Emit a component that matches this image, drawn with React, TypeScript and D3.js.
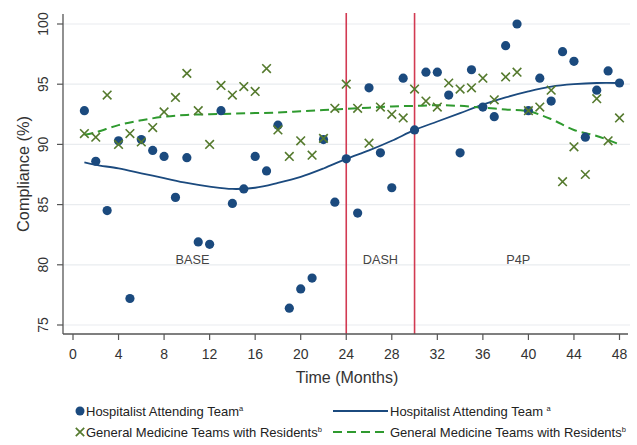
import * as d3 from 'd3';
import React from 'react';

// observed monthly compliance (%), months 1..48
const months = d3.range(1, 49);
const hospitalist = [
  92.8, 88.6, 84.5, 90.3, 77.2, 90.4, 89.5, 89.0, 85.6, 88.9, 81.9, 81.7,
  92.8, 85.1, 86.3, 89.0, 87.8, 91.6, 76.4, 78.0, 78.9, 90.4, 85.2, 88.8,
  84.3, 94.7, 89.3, 86.4, 95.5, 91.2, 96.0, 96.0, 94.1, 89.3, 96.2, 93.1,
  92.3, 98.2, 100.0, 92.8, 95.5, 93.6, 97.7, 96.9, 90.6, 94.5, 96.1, 95.1
];
const residents = [
  90.9, 90.6, 94.1, 90.0, 90.9, 90.2, 91.4, 92.7, 93.9, 95.9, 92.8, 90.0,
  94.9, 94.1, 94.8, 94.4, 96.3, 91.2, 89.0, 90.3, 89.1, 90.5, 93.0, 95.0,
  93.0, 90.1, 93.1, 92.5, 92.2, 94.6, 93.6, 93.1, 95.1, 94.6, 94.7, 95.5,
  93.7, 95.6, 96.0, 92.8, 93.1, 94.5, 86.9, 89.8, 87.5, 93.8, 90.3, 92.2
];

// fitted curves
const fitMonths = [1, 2, 4, 6, 8, 10, 12, 14, 16, 18, 20, 22, 24, 26, 28, 30, 32, 34, 36, 38, 40, 42, 44, 46, 48];
const hospFit = [
  88.5, 88.3, 88.0, 87.6, 87.2, 86.8, 86.5, 86.3, 86.4, 86.8, 87.3, 88.0, 88.8,
  89.5, 90.3, 91.2, 91.9, 92.6, 93.3, 93.9, 94.4, 94.8, 95.0, 95.1, 95.1
];
const resFit = [
  90.8, 91.0, 91.6, 92.0, 92.3, 92.45, 92.5, 92.55, 92.6, 92.65, 92.75, 92.85, 92.95,
  93.05, 93.15, 93.2, 93.25, 93.2, 93.05, 92.9, 92.75, 92.1, 91.2, 90.7, 90.0
];

const xTicks = d3.range(0, 49, 4);
const yTicks = [75, 80, 85, 90, 95, 100];
const phases = [
  { label: 'BASE', at: 10.5 },
  { label: 'DASH', at: 27 },
  { label: 'P4P', at: 39.1 }
];
const phaseBreaks = [24, 30];

const navy = '#1b4a7e';
const olive = '#557a2e';
const green = '#2f9a2f';
const red = '#d23a52';
const font = 'Liberation Sans, Arial, sans-serif';

export default function App() {
  const x = d3.scaleLinear().domain([0, 48]).range([73, 619.5]);
  const y = d3.scaleLinear().domain([75, 100]).range([325, 24]);
  const left = 63, right = 628, bottom = 334, top = 14;

  const line = d3
    .line<[number, number]>()
    .x((d) => x(d[0]))
    .y((d) => y(d[1]))
    .curve(d3.curveCatmullRom);

  const hospPath = line(fitMonths.map((m, i) => [m, hospFit[i]]));
  const resPath = line(fitMonths.map((m, i) => [m, resFit[i]]));

  const cross = (cx: number, cy: number, s = 4.3) =>
    `M${cx - s},${cy - s}L${cx + s},${cy + s}M${cx - s},${cy + s}L${cx + s},${cy - s}`;

  return (
    <svg width={637} height={445} style={{ position: 'absolute', left: 0, top: 0, background: '#fff' }} fontFamily={font}>
      {yTicks.map((t) => (
        <line key={'g' + t} x1={left} x2={630} y1={y(t)} y2={y(t)} stroke="#e9ecef" strokeWidth={1.2} />
      ))}

      {phaseBreaks.map((b) => (
        <line key={'b' + b} x1={x(b)} x2={x(b)} y1={top - 1} y2={bottom} stroke={red} strokeWidth={1.6} />
      ))}

      {phases.map((p) => (
        <text key={p.label} x={x(p.at)} y={263.5} textAnchor="middle" fontSize={12.7} fill="#444">
          {p.label}
        </text>
      ))}

      <path d={hospPath || ''} fill="none" stroke={navy} strokeWidth={1.8} />
      <path d={resPath || ''} fill="none" stroke={green} strokeWidth={2} strokeDasharray="9,5" />

      {months.map((m, i) => (
        <circle key={'h' + m} cx={x(m)} cy={y(hospitalist[i])} r={4.6} fill={navy} />
      ))}
      {months.map((m, i) => (
        <path key={'r' + m} d={cross(x(m), y(residents[i]))} stroke={olive} strokeWidth={1.6} fill="none" />
      ))}

      {/* axes */}
      <line x1={left} x2={left} y1={top} y2={bottom} stroke="#555" strokeWidth={1.3} />
      <line x1={left} x2={right} y1={bottom} y2={bottom} stroke="#555" strokeWidth={1.3} />
      {yTicks.map((t) => (
        <g key={'yt' + t}>
          <line x1={57} x2={left} y1={y(t)} y2={y(t)} stroke="#555" strokeWidth={1.2} />
          <text
            transform={`translate(48,${y(t)}) rotate(-90)`}
            textAnchor="middle"
            fontSize={14}
            fill="#333"
          >
            {t}
          </text>
        </g>
      ))}
      {xTicks.map((t) => (
        <g key={'xt' + t}>
          <line x1={x(t)} x2={x(t)} y1={bottom} y2={bottom + 6} stroke="#555" strokeWidth={1.2} />
          <text x={x(t)} y={358.5} textAnchor="middle" fontSize={14} fill="#333">
            {t}
          </text>
        </g>
      ))}
      <text x={347} y={383} textAnchor="middle" fontSize={16} fill="#333">
        Time (Months)
      </text>
      <text transform="translate(29,174) rotate(-90)" textAnchor="middle" fontSize={16.3} fill="#333">
        Compliance (%)
      </text>

      {/* legend */}
      <g fontSize={13} fill="#222">
        <circle cx={80} cy={411} r={4.5} fill={navy} />
        <text x={86} y={415.5}>
          Hospitalist Attending Team<tspan fontSize={7.5} dy={-5}>a</tspan>
        </text>
        <path d={cross(80, 432, 4.2)} stroke={olive} strokeWidth={1.7} />
        <text x={86} y={436.5}>
          General Medicine Teams with Residents<tspan fontSize={7.5} dy={-5}>b</tspan>
        </text>
        <line x1={333} x2={388} y1={411} y2={411} stroke={navy} strokeWidth={1.8} />
        <text x={390} y={415.5}>
          Hospitalist Attending Team <tspan fontSize={7.5} dy={-5}>a</tspan>
        </text>
        <line x1={333} x2={388} y1={432} y2={432} stroke={green} strokeWidth={2} strokeDasharray="9,5" />
        <text x={390} y={436.5}>
          General Medicine Teams with Residents<tspan fontSize={7.5} dy={-5}>b</tspan>
        </text>
      </g>
    </svg>
  );
}
